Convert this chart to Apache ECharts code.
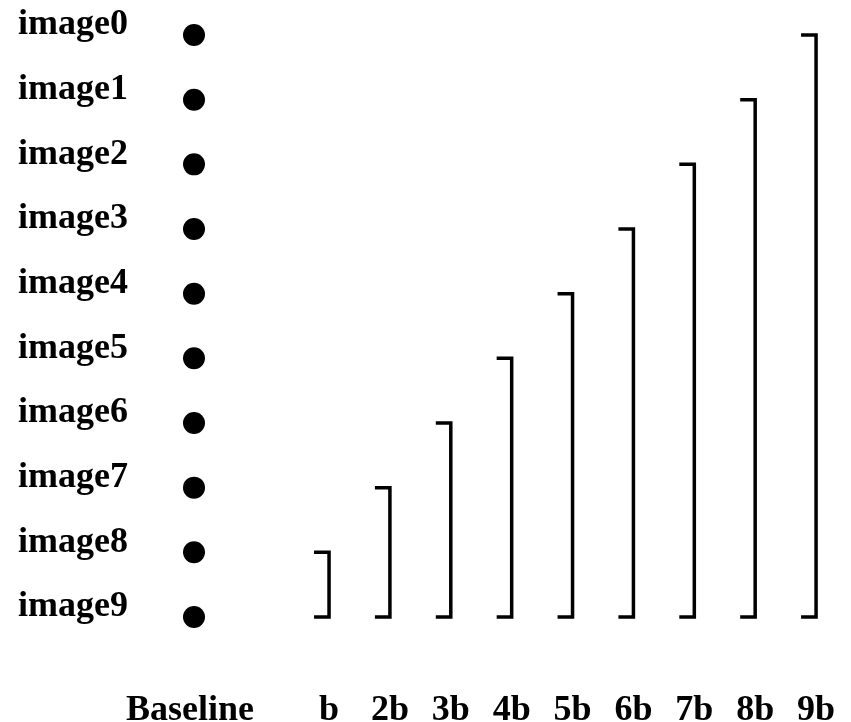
<!DOCTYPE html>
<html>
<head>
<meta charset="utf-8">
<script src="https://cdn.jsdelivr.net/npm/echarts@6/dist/echarts.min.js"></script>
<style>
  html, body { margin: 0; padding: 0; background: #fff; }
  #chart { width: 851px; height: 722px; }
</style>
</head>
<body>
<div id="chart"></div>
<script>
// ---- data ----
const imageNames = ['image0', 'image1', 'image2', 'image3', 'image4', 'image5', 'image6', 'image7', 'image8', 'image9'];
const baselineLabels = ['Baseline'];
const bracketLabels = ['b', '2b', '3b', '4b', '5b', '6b', '7b', '8b', '9b'];
const bracketTop = ['image8', 'image7', 'image6', 'image5', 'image4', 'image3', 'image2', 'image1', 'image0'];
const bracketBottom = ['image9', 'image9', 'image9', 'image9', 'image9', 'image9', 'image9', 'image9', 'image9'];

const FONT = '"Liberation Serif", "DejaVu Serif", serif';
const FS = 36;

const chart = echarts.init(document.getElementById('chart'), null, { renderer: 'canvas' });

const commonY = {
  type: 'category',
  data: imageNames,
  inverse: true,
  axisLine: { show: false },
  axisTick: { show: false },
  splitLine: { show: false }
};
const xLabelStyle = {
  fontFamily: FONT,
  fontSize: FS,
  fontWeight: 'bold',
  color: '#000',
  lineHeight: FS,
  margin: 43
};

chart.setOption({
  animation: false,
  backgroundColor: '#ffffff',
  grid: [
    { left: 144, width: 100, top: 2.7, bottom: 72.7, outerBoundsMode: 'none', containLabel: false },
    { left: 298.6, right: 4.5, top: 2.7, bottom: 72.7, outerBoundsMode: 'none', containLabel: false }
  ],
  xAxis: [
    {
      gridIndex: 0, type: 'category', data: baselineLabels,
      axisLine: { show: false }, axisTick: { show: false }, splitLine: { show: false },
      axisLabel: Object.assign({}, xLabelStyle, { padding: [0, 8, 0, 0] })
    },
    {
      gridIndex: 1, type: 'category', data: bracketLabels,
      axisLine: { show: false }, axisTick: { show: false }, splitLine: { show: false },
      axisLabel: xLabelStyle
    }
  ],
  yAxis: [
    Object.assign({ gridIndex: 0 }, commonY, {
      axisLabel: {
        fontFamily: FONT, fontSize: FS, fontWeight: 'bold', color: '#000',
        align: 'left', margin: 126,
        verticalAlign: 'bottom',
        lineHeight: 20
      }
    }),
    Object.assign({ gridIndex: 1 }, commonY, { axisLabel: { show: false } })
  ],
  series: [
    {
      type: 'scatter',
      xAxisIndex: 0, yAxisIndex: 0,
      symbol: 'circle',
      symbolSize: 22,
      itemStyle: { color: '#000', opacity: 1 },
      data: imageNames.map(n => [baselineLabels[0], n])
    },
    {
      type: 'custom',
      xAxisIndex: 1, yAxisIndex: 1,
      data: bracketLabels.map((l, i) => [l, bracketTop[i], bracketBottom[i]]),
      renderItem: function (params, api) {
        const top = api.coord([api.value(0), api.value(1)]);
        const bot = api.coord([api.value(0), api.value(2)]);
        const x = top[0];
        return {
          type: 'polyline',
          shape: { points: [[x - 15, top[1]], [x, top[1]], [x, bot[1]], [x - 15, bot[1]]] },
          style: { stroke: '#000', lineWidth: 3.5, fill: null, lineJoin: 'miter' }
        };
      },
      encode: { x: 0, y: [1, 2] }
    }
  ]
});
</script>
</body>
</html>
